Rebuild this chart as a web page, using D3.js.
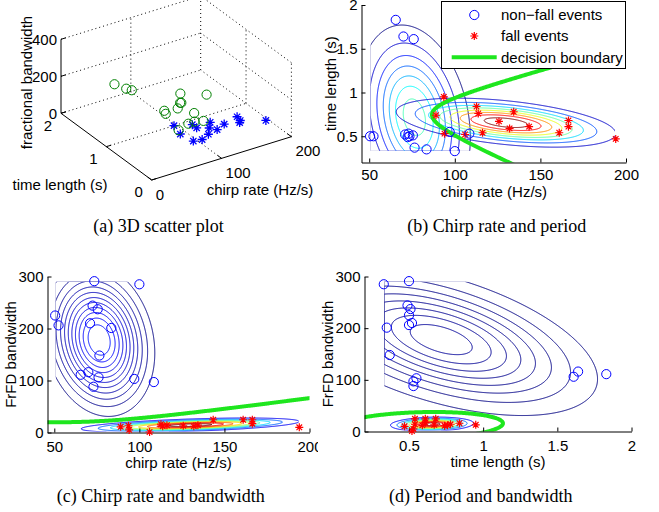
<!DOCTYPE html>
<html>
<head>
<meta charset="utf-8">
<script src="https://cdn.jsdelivr.net/npm/d3@7"></script>
<style>
  body { margin: 0; background: #fff; }
  svg text { font-family: "Liberation Sans", Arial, Helvetica, sans-serif; font-size: 15px; fill: #000; }
  svg text.cap { font-family: "Liberation Serif", "Times New Roman", serif; font-size: 18px; }
</style>
</head>
<body>
<div id="container"></div>
<script>
const w = 659;
const h = 512;

// events: chirp rate (Hz/s), time length (s), FrFD bandwidth
const nonfallChirp = [73.5, 100, 50.5, 52.5, 72.5, 75.5, 71, 83.5, 76.5, 65.5, 70, 76, 73, 97, 108.5];
const nonfallTime  = [0.50, 0.33, 0.50, 0.50, 0.49, 0.51, 0.52, 0.35, 0.37, 1.83, 1.64, 1.61, 0.53, 0.55, 0.53];
const nonfallBw    = [291, 285, 225, 206, 244, 237, 210, 201, 148, 111, 116, 106, 88, 103, 97];

const fallChirp = [93.6, 89, 94, 106, 112.7, 113.7, 116.2, 125.8, 132, 134.4, 143.4, 161, 166.4, 166.4, 194];
const fallTime  = [0.95, 0.74, 0.53, 0.52, 0.84, 0.76, 0.54, 0.67, 0.59, 0.78, 0.61, 0.54, 0.68, 0.61, 0.47];
const fallBw    = [13, 11, 5, 1, 16, 12, 14, 13, 12, 14, 24.5, 24.5, 24.5, 17, 10];

const chirpTicks = [50, 100, 150, 200];
const timeTicks = [0.5, 1, 1.5, 2];
const bwTicks = [0, 100, 200, 300];
const cTicks3d = [0, 100, 200];
const tTicks3d = [0, 1, 2];
const zTicks3d = [0, 200, 400];

// contour levels as fraction of each class peak density (outer, inner), and how many
const contourFrac = [0.12, 0.92];
const contourCountB = [7, 8];
const contourCountC = [11, 9];
const contourCountD = [8, 9];

const legendLabels = ['non\u2212fall events', 'fall events', 'decision boundary'];

const svg = d3.select('#container')
  .append('svg')
  .attr('width', w)
  .attr('height', h)
  .attr('viewBox', [0, 0, w, h]);

const green = '#1ee61e';

const jet = t => {
  t = Math.max(0, Math.min(1, t));
  const f = v => Math.round(255 * Math.max(0, Math.min(1, 1.5 - Math.abs(4 * t - v))));
  return `rgb(${f(3)},${f(2)},${f(1)})`;
};

// gaussian fitted to one class
const gauss = (xs, ys) => {
  const mx = d3.mean(xs), my = d3.mean(ys);
  const sx = d3.deviation(xs), sy = d3.deviation(ys);
  const r = d3.sum(xs, (v, i) => (v - mx) * (ys[i] - my)) / (xs.length - 1) / (sx * sy);
  const lognorm = -Math.log(2 * Math.PI * sx * sy * Math.sqrt(1 - r * r));
  return {
    peak: Math.exp(lognorm),
    log: (a, b) => {
      const u = (a - mx) / sx, v = (b - my) / sy;
      return lognorm - (u * u - 2 * r * u * v + v * v) / (2 * (1 - r * r));
    }
  };
};

const starPath = s => {
  const a = s * 0.7;
  return `M${-s},0H${s}M0,${-s}V${s}M${-a},${-a}L${a},${a}M${-a},${a}L${a},${-a}`;
};

let clipCount = 0;
const clip = (x, y, cw, ch) => {
  const id = 'clip' + clipCount++;
  svg.append('clipPath').attr('id', id)
    .append('rect').attr('x', x).attr('y', y).attr('width', cw).attr('height', ch);
  return `url(#${id})`;
};

const drawPanel = o => {
  const g = svg.append('g');
  if (o.clipRight) g.attr('clip-path', clip(0, 0, o.clipRight, h));

  const x = d3.scaleLinear().domain(o.xDomain).range(o.xRange);
  const y = d3.scaleLinear().domain(o.yDomain).range(o.yRange);
  const gN = gauss(o.nx, o.ny);
  const gF = gauss(o.fx, o.fy);

  const grid = (fn, x0, y0, nw, nh, st) => {
    const vals = new Float64Array(nw * nh);
    for (let j = 0; j < nh; j++) {
      const yv = y.invert(y0 + (j + 0.5) * st);
      for (let i = 0; i < nw; i++) vals[j * nw + i] = fn(x.invert(x0 + (i + 0.5) * st), yv);
    }
    return vals;
  };
  const pathAt = (x0, y0, st) => d3.geoPath(d3.geoTransform({
    point(px, py) { this.stream.point(x0 + px * st, y0 + py * st); }
  }));

  // densities over the range of the data
  const allX = o.nx.concat(o.fx), allY = o.ny.concat(o.fy);
  const gx0 = x(d3.min(allX)), gx1 = x(d3.max(allX));
  const gy0 = y(d3.max(allY)), gy1 = y(d3.min(allY));
  const st = o.step;
  const nw = Math.round((gx1 - gx0) / st), nh = Math.round((gy1 - gy0) / st);
  const levels = (G, n) => d3.range(n).map(k =>
    G.peak * (contourFrac[0] + (contourFrac[1] - contourFrac[0]) * k / (n - 1)));
  const levN = levels(gN, o.counts[0]);
  const levF = levels(gF, o.counts[1]);
  const cmin = d3.min(levN.concat(levF)), cmax = d3.max(levN.concat(levF));

  const cg = g.append('g').attr('clip-path', clip(gx0 + 0.6, gy0 + 0.6, nw * st - 1.2, nh * st - 1.2));
  [[gN, levN], [gF, levF]].forEach(([G, lev]) => {
    const vals = grid((a, b) => Math.exp(G.log(a, b)), gx0, gy0, nw, nh, st);
    cg.append('g').selectAll('path')
      .data(d3.contours().size([nw, nh]).thresholds(lev)(vals))
      .join('path')
      .attr('d', pathAt(gx0, gy0, st))
      .attr('fill', 'none')
      .attr('stroke', d => jet((d.value - cmin) / (cmax - cmin)))
      .attr('stroke-width', 1);
  });

  // decision boundary: equal class densities
  const m = 10;
  const bx0 = o.xRange[0] - m, by0 = o.yRange[1] - m;
  const bw = Math.round(o.xRange[1] - o.xRange[0] + 2 * m);
  const bh = Math.round(o.yRange[0] - o.yRange[1] + 2 * m);
  const bvals = grid((a, b) => gF.log(a, b) - gN.log(a, b), bx0, by0, bw, bh, 1);
  g.append('g')
    .attr('clip-path', clip(o.xRange[0], o.yRange[1], o.xRange[1] - o.xRange[0], o.yRange[0] - o.yRange[1]))
    .append('path')
    .datum(d3.contours().size([bw, bh]).thresholds([0])(bvals)[0])
    .attr('d', pathAt(bx0, by0, 1))
    .attr('fill', 'none')
    .attr('stroke', green)
    .attr('stroke-width', 4)
    .attr('stroke-linejoin', 'round');

  const fmt = d3.format('');
  g.append('g')
    .attr('transform', `translate(0,${o.yRange[0]})`)
    .call(d3.axisBottom(x).tickValues(o.xTicks).tickFormat(fmt)
      .tickSizeInner(-4).tickSizeOuter(0).tickPadding(o.xPad))
    .call(a => a.attr('font-size', null).attr('font-family', null));
  g.append('g')
    .attr('transform', `translate(${o.xRange[0]},0)`)
    .call(d3.axisLeft(y).tickValues(o.yTicks).tickFormat(fmt)
      .tickSizeInner(-4).tickSizeOuter(0).tickPadding(4))
    .call(a => a.attr('font-size', null).attr('font-family', null));

  g.append('g').selectAll('path')
    .data(o.fx)
    .join('path')
    .attr('transform', (d, i) => `translate(${x(d)},${y(o.fy[i])})`)
    .attr('d', starPath(4))
    .attr('fill', 'none')
    .attr('stroke', '#f00')
    .attr('stroke-width', 1.2);
  g.append('g').selectAll('circle')
    .data(o.nx)
    .join('circle')
    .attr('cx', d => x(d))
    .attr('cy', (d, i) => y(o.ny[i]))
    .attr('r', 4.6)
    .attr('fill', 'none')
    .attr('stroke', '#00f');

  g.append('text')
    .attr('x', (o.xRange[0] + o.xRange[1]) / 2)
    .attr('y', o.xLabelY)
    .attr('text-anchor', 'middle')
    .text(o.xLabel);
  g.append('text')
    .attr('transform', `translate(${o.yLabelX},${(o.yRange[0] + o.yRange[1]) / 2}) rotate(-90)`)
    .attr('text-anchor', 'middle')
    .text(o.yLabel);
  svg.append('text')
    .attr('class', 'cap')
    .attr('x', o.capX)
    .attr('y', o.capY)
    .attr('text-anchor', 'middle')
    .text(o.caption);
};

// ---------- (a) 3D scatter ----------
const O3 = [151.7, 180];
const cVec = [139.7, -43.3], tVec = [-90.7, -66.7], zVec = [0, -74];
const cS = d3.scaleLinear().domain([0, 200]).range([0, 1]);
const tS = d3.scaleLinear().domain([0, 2]).range([0, 1]);
const zS = d3.scaleLinear().domain([0, 400]).range([0, 1]);
const proj = (c, t, z) => [
  O3[0] + cS(c) * cVec[0] + tS(t) * tVec[0] + zS(z) * zVec[0],
  O3[1] + cS(c) * cVec[1] + tS(t) * tVec[1] + zS(z) * zVec[1]
];
const unit = v => { const l = Math.hypot(v[0], v[1]); return [v[0] / l, v[1] / l]; };
const cU = unit(cVec), tU = unit(tVec);

const ga = svg.append('g').attr('clip-path', clip(0, 0, 321, h));
const seg = d3.line();

const gridSegs = [];
tTicks3d.slice(1).forEach(t => gridSegs.push([proj(0, t, 0), proj(200, t, 0)]));
cTicks3d.slice(1).forEach(c => gridSegs.push([proj(c, 0, 0), proj(c, 2, 0)]));
zTicks3d.slice(1).forEach(z => {
  gridSegs.push([proj(0, 2, z), proj(200, 2, z)]);
  gridSegs.push([proj(200, 0, z), proj(200, 2, z)]);
});
cTicks3d.slice(1).forEach(c => gridSegs.push([proj(c, 2, 0), proj(c, 2, 400)]));
tTicks3d.slice(0, 2).forEach(t => gridSegs.push([proj(200, t, 0), proj(200, t, 400)]));

ga.append('g').selectAll('path')
  .data(gridSegs)
  .join('path')
  .attr('d', seg)
  .attr('stroke', '#000')
  .attr('stroke-width', 1)
  .attr('stroke-dasharray', '1,3')
  .attr('fill', 'none');

const axisSegs = [
  [proj(0, 2, 0), proj(0, 2, 400)],
  [proj(0, 0, 0), proj(0, 2, 0)],
  [proj(0, 0, 0), proj(200, 0, 0)]
];
zTicks3d.forEach(z => { const p = proj(0, 2, z); axisSegs.push([p, [p[0] + cU[0] * 5, p[1] + cU[1] * 5]]); });
tTicks3d.forEach(t => { const p = proj(0, t, 0); axisSegs.push([p, [p[0] + cU[0] * 5, p[1] + cU[1] * 5]]); });
cTicks3d.forEach(c => { const p = proj(c, 0, 0); axisSegs.push([p, [p[0] + tU[0] * 5, p[1] + tU[1] * 5]]); });
ga.append('g').selectAll('path')
  .data(axisSegs)
  .join('path')
  .attr('d', seg)
  .attr('stroke', '#000')
  .attr('fill', 'none');

ga.append('g').selectAll('text')
  .data(zTicks3d)
  .join('text')
  .attr('x', d => proj(0, 2, d)[0] - 4)
  .attr('y', d => proj(0, 2, d)[1])
  .attr('dy', '0.35em')
  .attr('text-anchor', 'end')
  .text(d => d);
ga.append('g').selectAll('text')
  .data(tTicks3d)
  .join('text')
  .attr('x', d => proj(0, d, 0)[0] - 13)
  .attr('y', d => proj(0, d, 0)[1] + 12)
  .attr('dy', '0.35em')
  .attr('text-anchor', 'middle')
  .text(d => d);
ga.append('g').selectAll('text')
  .data(cTicks3d)
  .join('text')
  .attr('x', d => proj(d, 0, 0)[0] + 4)
  .attr('y', d => proj(d, 0, 0)[1] + 14.5)
  .attr('dy', '0.35em')
  .text(d => d);

ga.append('g').selectAll('path')
  .data(fallChirp)
  .join('path')
  .attr('transform', (d, i) => `translate(${proj(d, fallTime[i], fallBw[i])})`)
  .attr('d', starPath(4.5))
  .attr('fill', 'none')
  .attr('stroke', '#00f')
  .attr('stroke-width', 1.3);
ga.append('g').selectAll('circle')
  .data(nonfallChirp)
  .join('circle')
  .attr('cx', (d, i) => proj(d, nonfallTime[i], nonfallBw[i])[0])
  .attr('cy', (d, i) => proj(d, nonfallTime[i], nonfallBw[i])[1])
  .attr('r', 4.6)
  .attr('fill', 'none')
  .attr('stroke', '#008000');

ga.append('text').attr('x', 60).attr('y', 190).attr('text-anchor', 'middle').text('time length (s)');
ga.append('text').attr('x', 260).attr('y', 195).attr('text-anchor', 'middle').text('chirp rate (Hz/s)');
ga.append('text')
  .attr('transform', 'translate(32.3,82.5) rotate(-90)')
  .attr('text-anchor', 'middle')
  .text('fractional bandwidth');
svg.append('text').attr('class', 'cap').attr('x', 158.5).attr('y', 231.5)
  .attr('text-anchor', 'middle').text('(a) 3D scatter plot');

// ---------- (b) chirp rate vs time length ----------
drawPanel({
  nx: nonfallChirp, ny: nonfallTime, fx: fallChirp, fy: fallTime,
  xDomain: [45.5, 200], xRange: [361.5, 626],
  yDomain: [0.2, 2], yRange: [162.5, 5],
  xTicks: chirpTicks, yTicks: timeTicks, xPad: 7,
  counts: contourCountB, step: 0.5,
  xLabel: 'chirp rate (Hz/s)', xLabelY: 197,
  yLabel: 'time length (s)', yLabelX: 335.5,
  caption: '(b) Chirp rate and period', capX: 496.7, capY: 231.5
});

const lg = svg.append('g');
lg.append('rect')
  .attr('x', 441.5).attr('y', 1.5).attr('width', 184).attr('height', 67)
  .attr('fill', '#fff').attr('stroke', '#000');
const rows = [15, 36, 57.3];
lg.append('circle').attr('cx', 474.3).attr('cy', rows[0]).attr('r', 4.6)
  .attr('fill', 'none').attr('stroke', '#00f');
lg.append('path').attr('transform', `translate(474.3,${rows[1]})`).attr('d', starPath(4))
  .attr('fill', 'none').attr('stroke', '#f00').attr('stroke-width', 1.2);
lg.append('line').attr('x1', 451.7).attr('x2', 496.7).attr('y1', rows[2]).attr('y2', rows[2])
  .attr('stroke', green).attr('stroke-width', 4);
lg.selectAll('text')
  .data(legendLabels)
  .join('text')
  .attr('x', 501)
  .attr('y', (d, i) => rows[i])
  .attr('dy', '0.35em')
  .text(d => d);

// ---------- (c) chirp rate vs bandwidth ----------
drawPanel({
  nx: nonfallChirp, ny: nonfallBw, fx: fallChirp, fy: fallBw,
  xDomain: [46, 200], xRange: [47.5, 309.5],
  yDomain: [0, 300], yRange: [432.5, 276.5],
  xTicks: chirpTicks, yTicks: bwTicks, xPad: 9,
  counts: contourCountC, step: 0.5, clipRight: 318,
  xLabel: 'chirp rate (Hz/s)', xLabelY: 468.3,
  yLabel: 'FrFD bandwidth', yLabelX: 16.3,
  caption: '(c) Chirp rate and bandwidth', capX: 160.8, capY: 502
});

// ---------- (d) time length vs bandwidth ----------
drawPanel({
  nx: nonfallTime, ny: nonfallBw, fx: fallTime, fy: fallBw,
  xDomain: [0.2, 2], xRange: [364.5, 631.5],
  yDomain: [0, 300], yRange: [431.5, 276.5],
  xTicks: timeTicks, yTicks: bwTicks, xPad: 9,
  counts: contourCountD, step: 0.5,
  xLabel: 'time length (s)', xLabelY: 467.3,
  yLabel: 'FrFD bandwidth', yLabelX: 333.3,
  caption: '(d) Period and bandwidth', capX: 480.8, capY: 501.7
});
</script>
</body>
</html>
